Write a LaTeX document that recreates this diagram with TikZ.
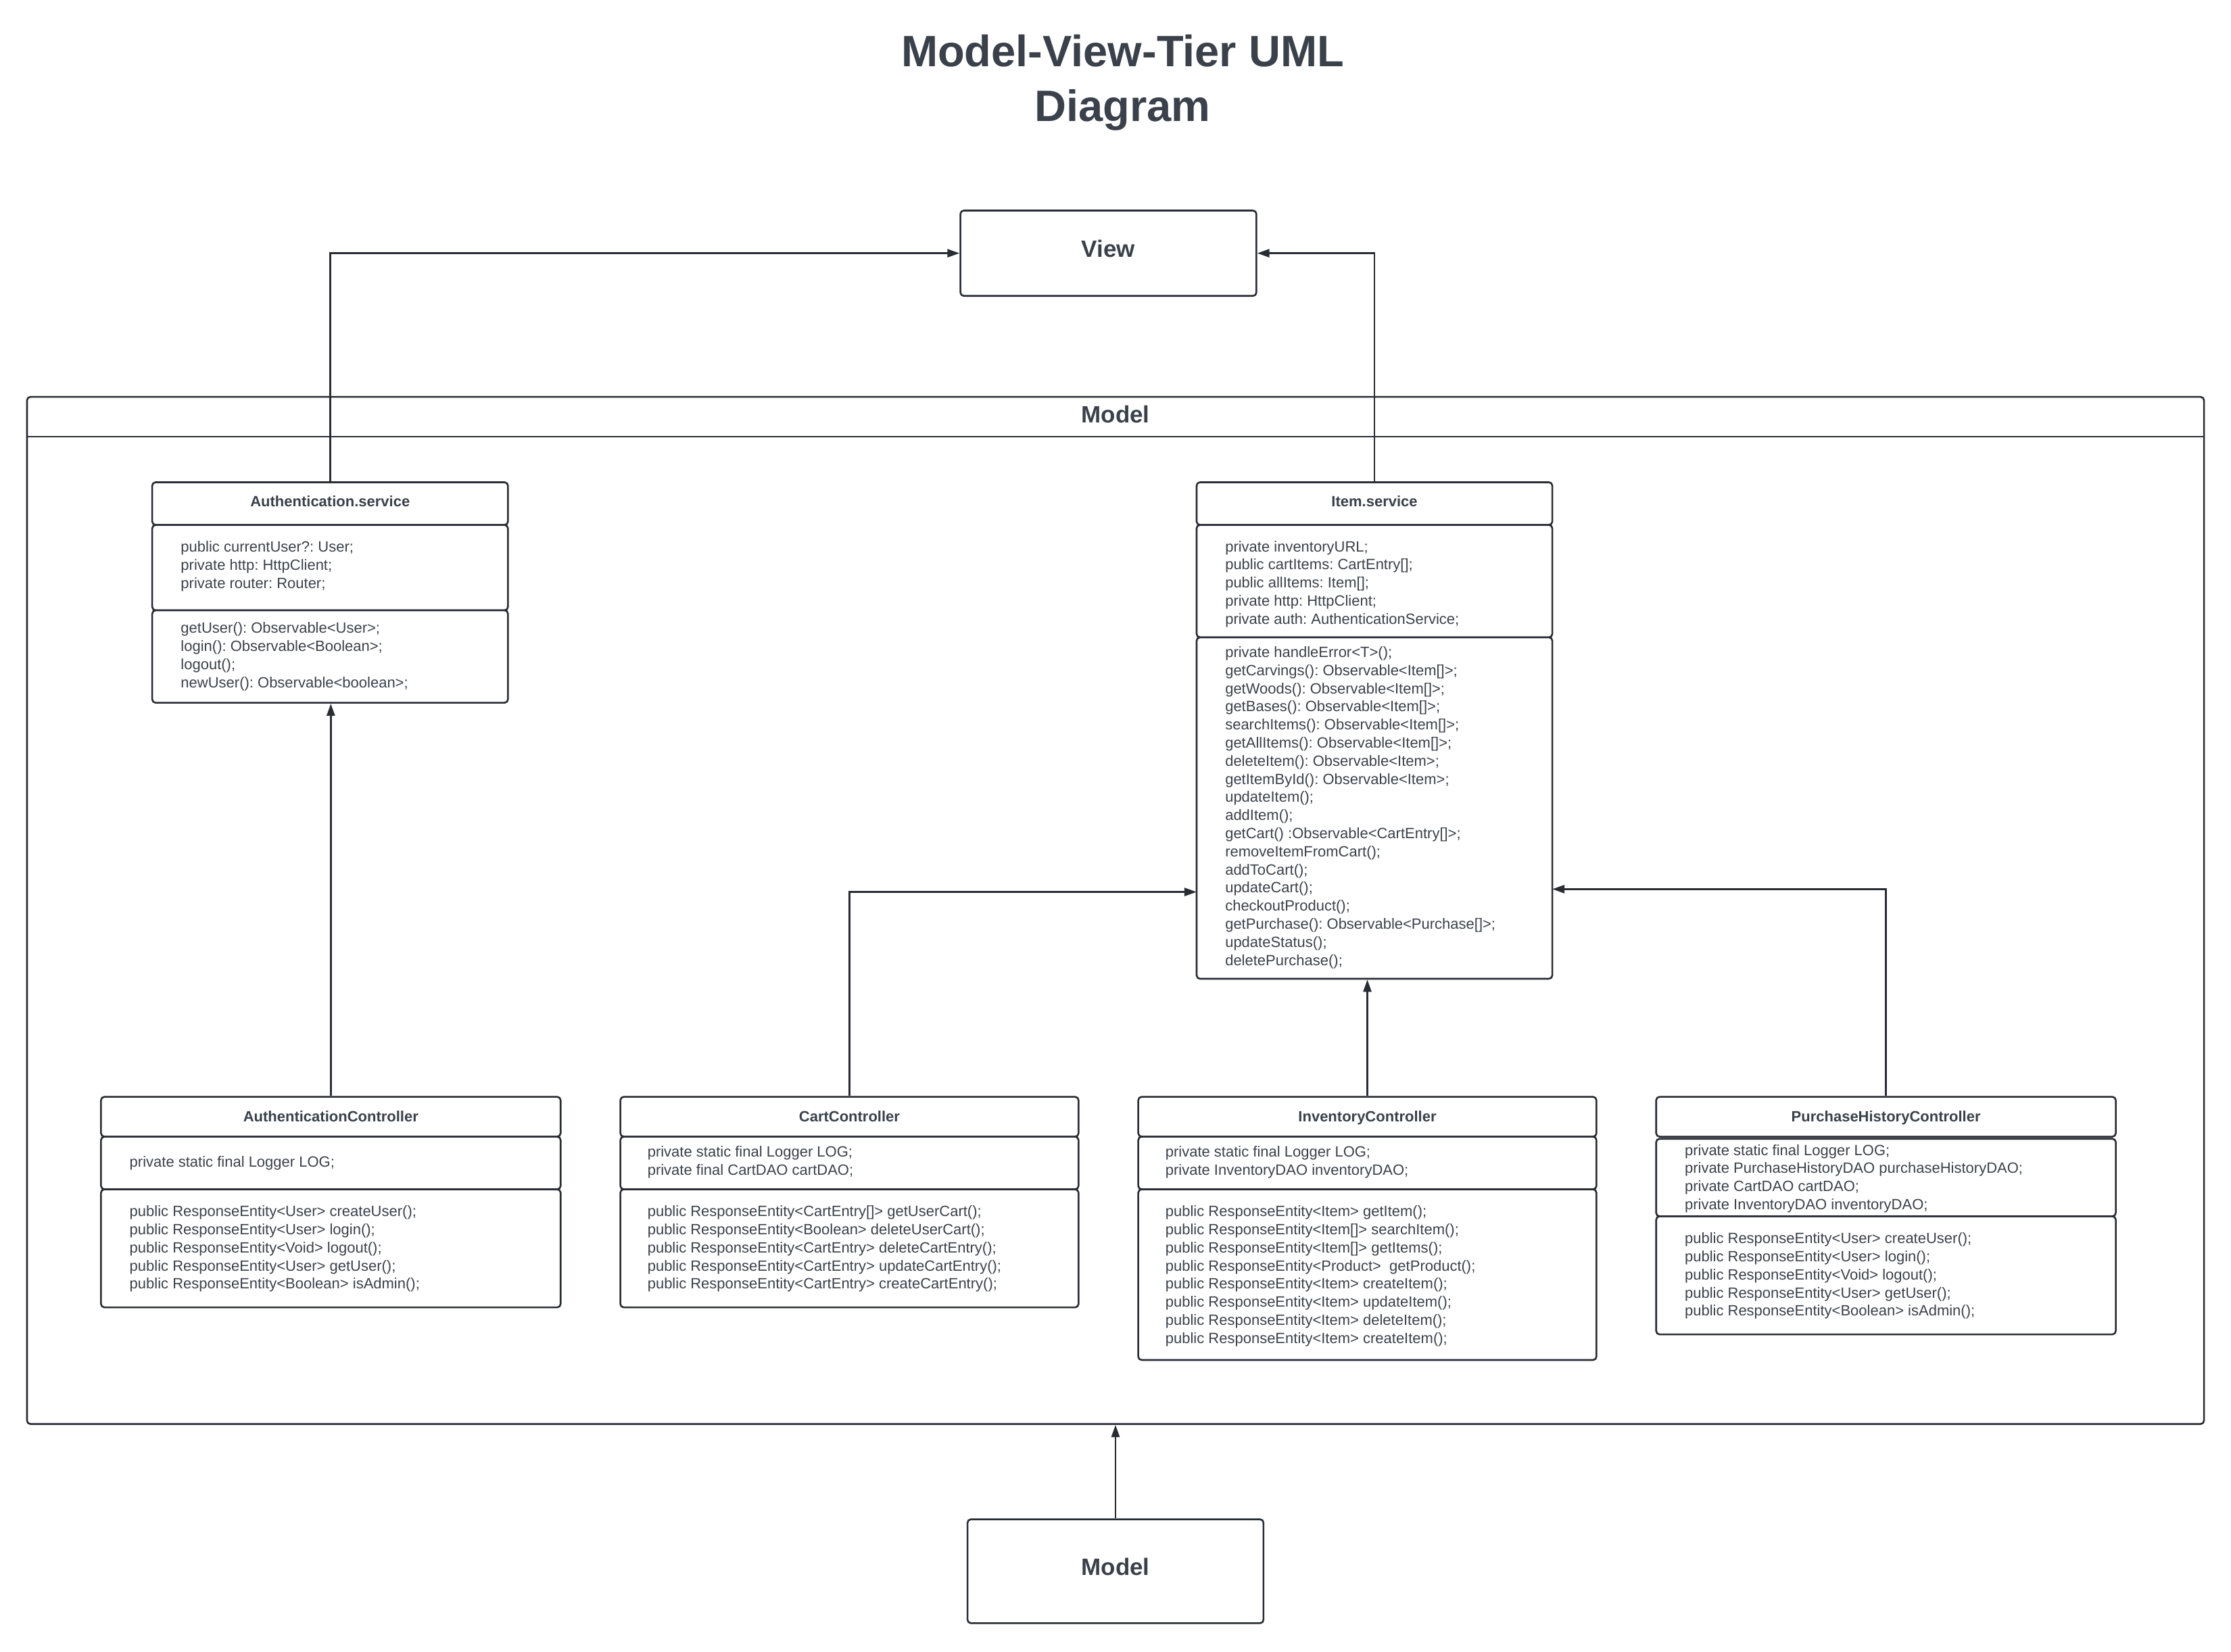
\documentclass[tikz,border=0pt]{standalone}
\usepackage{fontspec}
\setmainfont{Liberation Sans}
\usetikzlibrary{arrows.meta,fit}
\definecolor{ln}{HTML}{282C33}
\definecolor{txt}{HTML}{3A414A}
\frenchspacing
\begin{document}
\frenchspacing
\begin{tikzpicture}[x=2.1046pt,y=-2.1046pt,
  comp/.style={draw=ln, line width=2.6pt, rounded corners=5pt, inner sep=0pt, fit={#1}},
  ttl/.style={text=txt, inner sep=0pt, font=\fontsize{65pt}{80pt}\selectfont\bfseries},
  big/.style={text=txt, inner sep=0pt, font=\fontsize{35pt}{42pt}\selectfont\bfseries},
  hdr/.style={text=txt, inner sep=0pt, anchor=base, font=\fontsize{22pt}{26.8pt}\selectfont\bfseries},
  body/.style={text=txt, inner sep=0pt, anchor=north west, align=left, font=\fontsize{22pt}{26.8pt}\selectfont\frenchspacing},
  arr/.style={draw=ln, line width=2.6pt, -{Triangle[length=18pt,width=12pt]}},
  shp/.style={draw=ln, line width=2.6pt}
]
\useasboundingbox (0,0) rectangle (1568,1161);
\fill[white] (0,0) rectangle (1568,1161);

% Title
\node[ttl, anchor=base] (title1) at (789,46.7) {Model-View-Tier UML};
\node[ttl, anchor=base] (title2) at (789,85.5) {Diagram};

% View
\node[comp={(675,148) (883,208)}] (view) {};
\node[big, anchor=base] (viewT) at (779,181) {View};

% Model container
\node[comp={(19,279) (1549,1001)}] (modelC) {};
\draw[shp] (19,307) -- (1549,307);
\node[big, anchor=base] (modelCT) at (784,297) {Model};

% Bottom Model
\node[comp={(680,1068) (888,1141)}] (modelB) {};
\node[big, anchor=base] (modelBT) at (784,1107.5) {Model};

% Authentication.service
\node[comp={(107,339) (357,369)}] (authH) {};
\node[comp={(107,369) (357,429)}] (authA) {};
\node[comp={(107,429) (357,494)}] (authM) {};
\node[hdr] (authHT) at (232,356.2) {Authentication.service};
\node[body] (authAT) at (127,379.1) {\strut public currentUser?: User;\\private http: HttpClient;\\private router: Router;};
\node[body] (authMT) at (127,436.1) {\strut getUser(): Observable<User>;\\login(): Observable<Boolean>;\\logout();\\newUser(): Observable<boolean>;};

% Item.service
\node[comp={(841,339) (1091,369)}] (itemH) {};
\node[comp={(841,369) (1091,448)}] (itemA) {};
\node[comp={(841,448) (1091,688)}] (itemM) {};
\node[hdr] (itemHT) at (966,356.2) {Item.service};
\node[body] (itemAT) at (861,378.8) {\strut private inventoryURL;\\public cartItems: CartEntry[];\\public allItems: Item[];\\private http: HttpClient;\\private auth: AuthenticationService;};
\node[body] (itemMT) at (861,453.1) {\strut private handleError<T>();\\getCarvings(): Observable<Item[]>;\\getWoods(): Observable<Item[]>;\\getBases(): Observable<Item[]>;\\searchItems(): Observable<Item[]>;\\getAllItems(): Observable<Item[]>;\\deleteItem(): Observable<Item>;\\getItemById(): Observable<Item>;\\updateItem();\\addItem();\\getCart() :Observable<CartEntry[]>;\\removeItemFromCart();\\addToCart();\\updateCart();\\checkoutProduct();\\getPurchase(): Observable<Purchase[]>;\\updateStatus();\\deletePurchase();};

% AuthenticationController
\node[comp={(71,771) (394,799)}] (acH) {};
\node[comp={(71,799) (394,836)}] (acA) {};
\node[comp={(71,836) (394,919)}] (acM) {};
\node[hdr] (acHT) at (232.5,788.7) {AuthenticationController};
\node[body] (acAT) at (91,811.1) {\strut private static final Logger LOG;};
\node[body] (acMT) at (91,846.1) {\strut public ResponseEntity<User> createUser();\\public ResponseEntity<User> login();\\public ResponseEntity<Void> logout();\\public ResponseEntity<User> getUser();\\public ResponseEntity<Boolean> isAdmin();};

% CartController
\node[comp={(436,771) (758,799)}] (ccH) {};
\node[comp={(436,799) (758,836)}] (ccA) {};
\node[comp={(436,836) (758,919)}] (ccM) {};
\node[hdr] (ccHT) at (597,788.7) {CartController};
\node[body] (ccAT) at (455,804.1) {\strut private static final Logger LOG;\\private final CartDAO cartDAO;};
\node[body] (ccMT) at (455,846.1) {\strut public ResponseEntity<CartEntry[]> getUserCart();\\public ResponseEntity<Boolean> deleteUserCart();\\public ResponseEntity<CartEntry> deleteCartEntry();\\public ResponseEntity<CartEntry> updateCartEntry();\\public ResponseEntity<CartEntry> createCartEntry();};

% InventoryController
\node[comp={(800,771) (1122,799)}] (icH) {};
\node[comp={(800,799) (1122,836)}] (icA) {};
\node[comp={(800,836) (1122,956)}] (icM) {};
\node[hdr] (icHT) at (961,788.7) {InventoryController};
\node[body] (icAT) at (819,804.1) {\strut private static final Logger LOG;\\private InventoryDAO inventoryDAO;};
\node[body] (icMT) at (819,846.1) {\strut public ResponseEntity<Item> getItem();\\public ResponseEntity<Item[]> searchItem();\\public ResponseEntity<Item[]> getItems();\\public ResponseEntity<Product>\ \ getProduct();\\public ResponseEntity<Item> createItem();\\public ResponseEntity<Item> updateItem();\\public ResponseEntity<Item> deleteItem();\\public ResponseEntity<Item> createItem();};

% PurchaseHistoryController
\node[comp={(1164,771) (1487,799)}] (phH) {};
\node[comp={(1164,800.5) (1487,855)}] (phA) {};
\node[comp={(1164,855) (1487,938)}] (phM) {};
\node[hdr] (phHT) at (1325.5,788.7) {PurchaseHistoryController};
\node[body] (phAT) at (1184,803.1) {\strut private static final Logger LOG;\\private PurchaseHistoryDAO purchaseHistoryDAO;\\private CartDAO cartDAO;\\private InventoryDAO inventoryDAO;};
\node[body] (phMT) at (1184,865.1) {\strut public ResponseEntity<User> createUser();\\public ResponseEntity<User> login();\\public ResponseEntity<Void> logout();\\public ResponseEntity<User> getUser();\\public ResponseEntity<Boolean> isAdmin();};

% Connectors
\coordinate (cartIn) at (841,627);
\coordinate (phIn) at (1091,625);
\draw[arr] (authH.north) |- (view.west);
\draw[arr] (itemH.north) |- (view.east);
\draw[arr] (acH.north) -- (acH.north |- authM.south);
\draw[arr] (ccH.north) |- (cartIn);
\draw[arr] (icH.north) -- (icH.north |- itemM.south);
\draw[arr] (phH.north) |- (phIn);
\draw[arr] (modelB.north) -- (modelB.north |- modelC.south);
\end{tikzpicture}
\end{document}
